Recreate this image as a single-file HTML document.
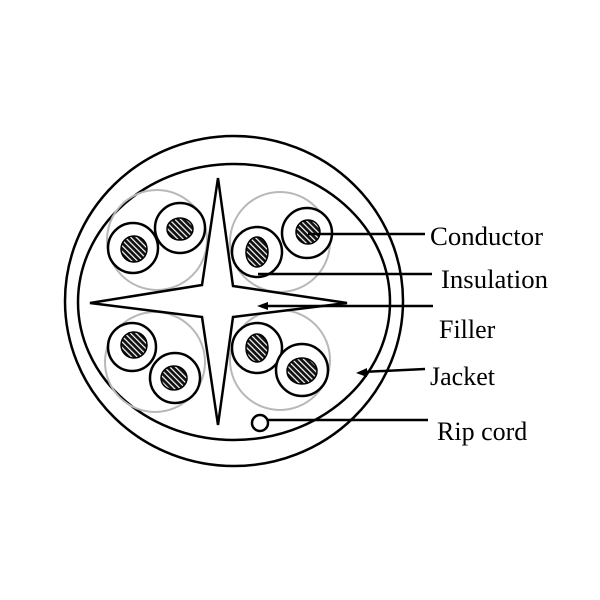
<!DOCTYPE html>
<html><head><style>html,body{margin:0;padding:0;background:#fff}svg{display:block}</style></head>
<body>
<svg width="600" height="600" viewBox="0 0 600 600" xmlns="http://www.w3.org/2000/svg">
<defs>
<pattern id="h" width="4" height="4" patternUnits="userSpaceOnUse" patternTransform="rotate(-45)">
<rect width="4" height="4" fill="#111"/><rect width="1.2" height="4" fill="#fff"/>
</pattern>
</defs>
<g fill="none" stroke="#000" stroke-width="2.5">
<ellipse cx="234" cy="301" rx="169" ry="165"/>
<ellipse cx="234" cy="302" rx="156" ry="138"/>
</g>
<g fill="none" stroke="#b8b8b8" stroke-width="2">
<circle cx="157" cy="240" r="50"/>
<circle cx="280" cy="242" r="50"/>
<circle cx="155" cy="362" r="50"/>
<circle cx="280" cy="360" r="50"/>
</g>
<polygon points="218,178 233,286 347,303 233,317 218,425 202,317 90,303 202,285" fill="#fff" stroke="#000" stroke-width="2.5" stroke-linejoin="miter"/>
<g fill="#fff" stroke="#000" stroke-width="2.5">
<circle cx="133" cy="248" r="25"/>
<circle cx="180" cy="228" r="25"/>
<circle cx="257" cy="252" r="25"/>
<circle cx="307" cy="233" r="25"/>
<circle cx="132" cy="347" r="24"/>
<circle cx="175" cy="378" r="25"/>
<circle cx="257" cy="348" r="25"/>
<circle cx="302" cy="370" r="26"/>
</g>
<g fill="url(#h)" stroke="#000" stroke-width="1.5">
<ellipse cx="134" cy="249" rx="13" ry="13"/>
<ellipse cx="180" cy="229" rx="13" ry="11"/>
<ellipse cx="257" cy="252" rx="11" ry="15"/>
<ellipse cx="308" cy="232" rx="12" ry="12"/>
<ellipse cx="134" cy="345" rx="13" ry="13"/>
<ellipse cx="174" cy="378" rx="13" ry="12"/>
<ellipse cx="257" cy="348" rx="11" ry="14"/>
<ellipse cx="302" cy="371" rx="15" ry="13"/>
</g>
<g stroke="#000" stroke-width="2.5" fill="none">
<line x1="308" y1="234" x2="425" y2="234"/>
<line x1="258" y1="274" x2="432" y2="274"/>
<line x1="262" y1="306" x2="433" y2="306"/>
<line x1="362" y1="372" x2="425" y2="369"/>
<line x1="268" y1="420" x2="428" y2="420"/>
<circle cx="260" cy="423" r="8" fill="#fff"/>
</g>
<polygon points="257,306 268,302 268,310" fill="#000"/>
<polygon points="356,373 367,368 367,377" fill="#000"/>
<g font-family="Liberation Serif, serif" font-size="26" fill="#000">
<text x="430" y="245" textLength="113" lengthAdjust="spacingAndGlyphs">Conductor</text>
<text x="441" y="288" textLength="107" lengthAdjust="spacingAndGlyphs">Insulation</text>
<text x="439" y="338">Filler</text>
<text x="430" y="385">Jacket</text>
<text x="437" y="440">Rip cord</text>
</g>
</svg>
</body></html>
